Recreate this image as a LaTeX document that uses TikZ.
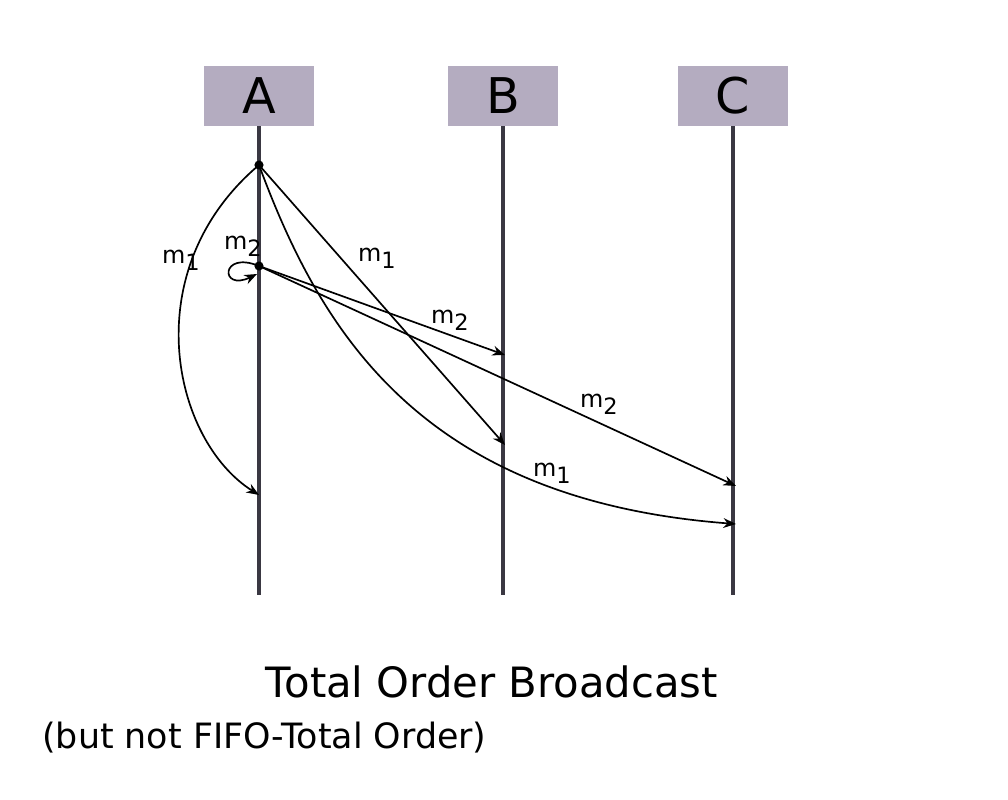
\documentclass[tikz,border=0pt]{standalone}
\usepackage{fontspec}
\setmainfont{DejaVu Sans}
\usetikzlibrary{arrows.meta}
\definecolor{boxgray}{RGB}{180,172,192}
\definecolor{linegray}{RGB}{58,56,66}
\tikzset{
  >={Stealth[length=9pt,width=7pt]},
  lifebox/.style={
    fill=boxgray,
    minimum width=2.75cm,
    minimum height=1.5cm,
    font=\fontsize{35}{40}\selectfont
  },
  lifeline/.style={draw=linegray, line width=2.8pt},
  msg/.style={->, line width=1.2pt},
  sendpt/.style={circle, fill, inner sep=0pt, minimum size=6.5pt},
  lbl/.style={font=\fontsize{17}{20}\selectfont, inner sep=1pt}
}
\newcommand{\msub}[1]{m\raisebox{-0.55ex}{\fontsize{16}{18}\selectfont #1}}

\begin{document}
\begin{tikzpicture}[x=0.025cm, y=-0.025cm]
  \useasboundingbox (0,0) rectangle (1008,800);

  % processes
  \node[lifebox] (A) at (259,96) {A};
  \node[lifebox] (B) at (503,96) {B};
  \node[lifebox] (C) at (733,96) {C};
  \coordinate (bot) at (0,595);
  \draw[lifeline] (A.south) -- (A.south |- bot);
  \draw[lifeline] (B.south) -- (B.south |- bot);
  \draw[lifeline] (C.south) -- (C.south |- bot);

  % send and receive events
  \coordinate (s1) at (259,165);
  \coordinate (s2) at (259,266);
  \coordinate (rA1) at (259,495);
  \coordinate (rB2) at (505,355);
  \coordinate (rB1) at (505,445);
  \coordinate (rC2) at (736,486);
  \coordinate (rC1) at (736,524);
  \coordinate (loopend) at (257,274);

  % m1
  \draw[msg] (s1) .. controls (135,270) and (172,440) .. (rA1);
  \draw[msg] (s1) -- (rB1);
  \draw[msg] (s1) .. controls (320,330) and (420,500) .. (rC1);
  % m2
  \draw[msg] (s2) .. controls (220,250) and (220,292) .. (loopend);
  \draw[msg] (s2) -- (rB2);
  \draw[msg] (s2) -- (rC2);

  \node[sendpt] (p1) at (s1) {};
  \node[sendpt] (p2) at (s2) {};

  % labels
  \node[lbl] (lA1) at (181,260) {\msub{1}};
  \node[lbl] (lA2) at (243,246) {\msub{2}};
  \node[lbl] (lB1) at (377,258) {\msub{1}};
  \node[lbl] (lB2) at (450,320) {\msub{2}};
  \node[lbl] (lC2) at (599,404) {\msub{2}};
  \node[lbl] (lC1) at (552,473) {\msub{1}};

  \node[anchor=base, font=\fontsize{29.7}{34}\selectfont] (title) at (492,697) {Total Order Broadcast};
  \node[anchor=base west, inner sep=0pt, font=\fontsize{24.8}{28}\selectfont] (sub) at (42,748) {(but not FIFO-Total Order)};
\end{tikzpicture}
\end{document}
